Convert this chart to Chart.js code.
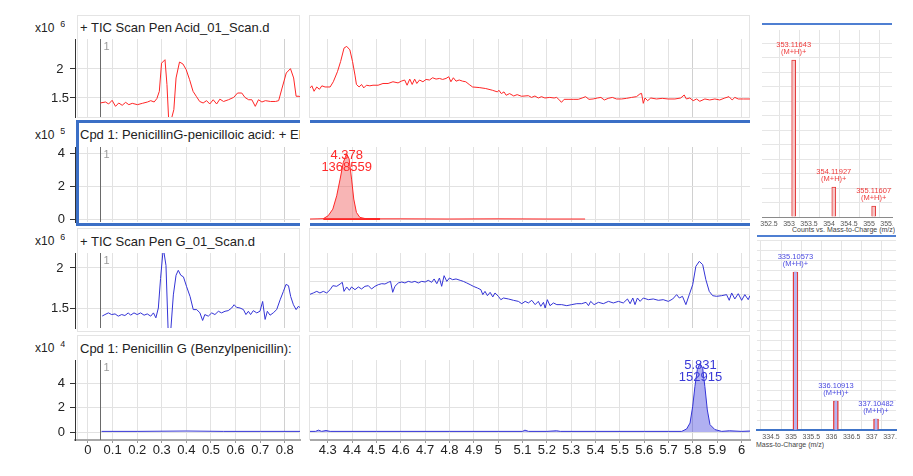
<!DOCTYPE html>
<html>
<head>
<meta charset="utf-8">
<script src="https://cdn.jsdelivr.net/npm/chart.js@4.4.1/dist/chart.umd.min.js"></script>
<style>
  body { margin: 0; width: 913px; height: 476px; overflow: hidden; position: relative; background: #fff;
         font-family: "Liberation Sans", Arial, sans-serif; color: #222; }
  canvas, .t, .f, .wrap, .sel { position: absolute; }
  .t { white-space: nowrap; overflow: hidden; font-size: 13px; line-height: 15px; }
  .exp { font-size: 12px; line-height: 14px; }
  .exp span { font-size: 9px; position: relative; top: -5px; margin-left: 6px; }
  .f { box-sizing: border-box; border: 1px solid #e4e4e4; }
  .sel { box-sizing: border-box; border: 0 solid #3b6fc6; z-index: 2; }
  .ax { font-size: 7px; line-height: 8px; color: #444; }
  .wrap { overflow: hidden; }
</style>
</head>
<body>

<!-- panel frames -->
<div class="f" style="left:77px;top:15px;width:223px;height:103px"></div>
<div class="f" style="left:309px;top:15px;width:441px;height:103px"></div>
<div class="f" style="left:77px;top:228px;width:223px;height:104px"></div>
<div class="f" style="left:309px;top:228px;width:441px;height:104px"></div>
<div class="f" style="left:77px;top:335px;width:223px;height:105px"></div>
<div class="f" style="left:309px;top:335px;width:441px;height:105px"></div>

<!-- titles -->
<div class="t exp" style="left:35px;top:21px">x10<span>6</span></div>
<div class="t" style="left:80px;top:20px;width:220px">+ TIC Scan Pen Acid_01_Scan.d</div>
<div class="t exp" style="left:35px;top:128px">x10<span>5</span></div>
<div class="t" style="left:80px;top:127px;width:220px">Cpd 1: PenicillinG-penicilloic acid: + EIC</div>
<div class="t exp" style="left:35px;top:234px">x10<span>6</span></div>
<div class="t" style="left:80px;top:234px;width:220px">+ TIC Scan Pen G_01_Scan.d</div>
<div class="t exp" style="left:35px;top:341px">x10<span>4</span></div>
<div class="t" style="left:80px;top:341px;width:220px">Cpd 1: Penicillin G (Benzylpenicillin):</div>

<!-- spectrum frame lines and axis titles -->
<div class="f" style="left:762px;top:23px;width:130px;height:2px;border:0;background:#4f7fd2"></div>
<div class="f" style="left:757px;top:235px;width:139px;height:2px;border:0;background:#4f7fd2"></div>
<div class="t ax" style="left:792px;top:226px">Counts vs. Mass-to-Charge (m/z)</div>
<div class="t ax" style="left:756px;top:441px">Mass-to-Charge (m/z)</div>

<div id="spec1" class="wrap" style="left:740px;top:0;width:153px;height:235px"></div>
<div id="spec2" class="wrap" style="left:740px;top:230px;width:157px;height:246px"></div>

<!-- selected compound frame (drawn over the plots) -->
<div class="sel" style="left:76px;top:120px;width:224px;height:106px;border-top-width:3px;border-left-width:3px;border-bottom-width:3px"></div>
<div class="sel" style="left:310px;top:120px;width:440px;height:106px;border-top-width:3px;border-bottom-width:3px"></div>

<script>
// ---- data: acquisition time (min) and response ----
const leftTicksX = [0, 0.1, 0.2, 0.3, 0.4, 0.5, 0.6, 0.7, 0.8];
const midTicksX = [4.3, 4.4, 4.5, 4.6, 4.7, 4.8, 4.9, 5, 5.1, 5.2, 5.3, 5.4, 5.5, 5.6, 5.7, 5.8, 5.9, 6];
const darkGridX = [0.8, 5.8];
const ticTicksY = [1.5, 2];
const penGMidTicksY = [1.5, 1.667, 1.833, 2];
const cpdTicksY = [0, 2, 4];
const markerTime = 0.05;
const markerLabel = '1';

// TIC Pen Acid (x10^6)
const acidTicLeftX = [.050,.071,.084,.098,.112,.125,.139,.153,.166,.180,.201,.221,.242,.255,.269,.280,.290,.299,.313,.321,.328,.338,.349,.358,.372,.386,.399,.413,.427,.440,.454,.468,.482,.495,.509,.523,.536,.551,.571,.592,.608,.625,.638,.653,.666,.680,.693,.707,.721,.742,.762,.775,.789,.806,.823,.836,.846,.858,.869,.875];
const acidTicLeftY = [1.414,1.431,1.397,1.46,1.356,1.414,1.374,1.425,1.385,1.408,1.385,1.408,1.431,1.454,1.431,1.49,1.615,2.10,2.16,1.73,1.12,1.12,1.30,1.845,2.12,2.086,1.99,1.816,1.615,1.53,1.44,1.414,1.454,1.397,1.47,1.397,1.48,1.44,1.47,1.51,1.586,1.586,1.51,1.47,1.47,1.356,1.47,1.431,1.454,1.44,1.44,1.454,1.672,1.931,2.006,1.845,1.53,1.53,1.49,1.385];
const acidTicMidX = [4.225,4.235,4.244,4.255,4.266,4.276,4.289,4.310,4.323,4.340,4.353,4.367,4.378,4.391,4.402,4.412,4.418,4.429,4.439,4.448,4.459,4.473,4.486,4.507,4.527,4.548,4.568,4.589,4.602,4.616,4.626,4.637,4.647,4.657,4.666,4.677,4.691,4.704,4.718,4.731,4.745,4.759,4.772,4.786,4.797,4.806,4.816,4.827,4.840,4.854,4.867,4.881,4.895,4.922,4.949,4.976,4.997,5.003,5.013,5.024,5.033,5.047,5.064,5.078,5.096,
  5.124,5.137,5.151,5.165,5.178,5.192,5.212,5.230,5.240,5.249,5.260,5.271,5.287,5.308,5.329,5.345,5.359,5.373,5.390,5.408,5.422,5.436,5.452,5.469,5.486,5.507,5.527,5.548,5.568,5.582,5.589,5.596,5.603,5.614,5.627,5.650,5.674,5.698,5.726,5.750,5.764,5.773,5.787,5.801,5.815,5.828,5.849,5.869,5.890,5.910,5.931,5.948,5.961,5.972,5.986,6.007,6.034];
const acidTicMidY = [1.663,1.71,1.616,1.69,1.65,1.71,1.69,1.69,1.78,1.953,2.128,2.36,2.39,2.33,2.128,1.895,1.733,1.69,1.733,1.674,1.72,1.71,1.72,1.72,1.75,1.75,1.78,1.76,1.79,1.81,1.72,1.826,1.733,1.826,1.75,1.81,1.78,1.82,1.81,1.849,1.826,1.837,1.82,1.837,1.866,1.78,1.849,1.79,1.81,1.79,1.78,1.733,1.69,1.68,1.663,1.634,1.605,1.634,1.576,1.605,1.547,1.576,1.535,1.558,1.53,
  1.54,1.51,1.534,1.5,1.523,1.5,1.51,1.5,1.51,1.477,1.425,1.477,1.477,1.477,1.477,1.5,1.523,1.477,1.483,1.5,1.51,1.466,1.494,1.51,1.483,1.483,1.494,1.51,1.523,1.569,1.58,1.408,1.5,1.454,1.5,1.483,1.494,1.483,1.483,1.5,1.552,1.483,1.5,1.454,1.483,1.443,1.483,1.466,1.483,1.466,1.5,1.523,1.466,1.51,1.483,1.483,1.483];

// Cpd 1 PenicillinG-penicilloic acid EIC (x10^5)
const acidEicX = [4.227,4.260,4.282,4.302,4.321,4.337,4.351,4.364,4.378,4.388,4.398,4.407,4.418,4.432,4.459,4.600,4.800,5.000,5.200,5.357];
const acidEicY = [0,0.01,0.02,0.2,0.6,1.41,2.42,3.43,3.95,3.64,2.42,1.21,0.4,0.1,0.01,0.01,0,0.01,0,0];
const acidBaseX = [4.282, 4.515];
const acidBaseY = [0, 0];
const acidPeak = [4.378, 1368559];

// TIC Pen G (x10^6)
const penGTicLeftX = [.058,.069,.083,.096,.110,.123,.137,.150,.164,.173,.187,.200,.214,.228,.241,.255,.266,.276,.286,.295,.306,.317,.326,.336,.347,.358,.367,.377,.388,.401,.415,.428,.442,.455,.466,.475,.489,.503,.516,.530,.543,.557,.570,.584,.594,.604,.618,.632,.642,.652,.661,.672,.686,.699,.710,.720,.729,.740,.753,.767,.781,.794,.805,.815,.824,.835,.846,.855,.865,.869];
const penGTicLeftY = [1.40,1.418,1.439,1.418,1.426,1.398,1.418,1.406,1.439,1.41,1.439,1.418,1.439,1.41,1.426,1.398,1.439,1.377,1.5,1.869,2.25,2.033,1.2,1.2,1.664,1.91,1.971,1.91,1.889,1.766,1.643,1.48,1.48,1.439,1.344,1.418,1.398,1.439,1.418,1.459,1.439,1.459,1.467,1.5,1.541,1.508,1.5,1.48,1.418,1.459,1.418,1.467,1.439,1.459,1.582,1.357,1.459,1.41,1.439,1.48,1.602,1.705,1.795,1.779,1.643,1.541,1.48,1.52,1.5,1.439];
const penGTicMidX = [4.224,4.241,4.255,4.268,4.282,4.296,4.310,4.321,4.337,4.351,4.360,4.367,4.378,4.389,4.398,4.412,4.426,4.439,4.453,4.467,4.480,4.494,4.508,4.522,4.535,4.549,4.558,4.567,4.576,4.590,4.604,4.617,4.631,4.645,4.658,4.672,4.686,4.700,4.713,4.727,4.737,4.748,4.759,4.768,4.778,4.789,4.800,4.813,4.827,4.844,4.857,4.871,4.885,4.898,4.915,4.929,4.937,4.946,4.956,4.967,4.978,4.987,5.001,5.011,5.022,5.042,5.063,5.083,5.097,5.111,5.124,5.138,5.152,5.165,5.175,5.186,5.193,5.202,5.213,5.227,5.241,5.261,5.282,5.302,5.323,5.343,5.361,5.371,5.380,5.394,5.412,5.432,5.453,5.473,5.494,5.514,5.531,5.542,5.553,5.562,5.572,5.583,5.596,5.617,5.637,5.658,5.678,5.699,5.717,5.733,5.744,5.757,5.771,5.785,5.799,5.812,5.826,5.840,5.853,5.867,5.881,5.897,5.918,5.938,5.949,5.959,5.972,5.986,6.000,6.013,6.027,6.034];
const penGTicMidY = [1.667,1.688,1.708,1.688,1.708,1.688,1.729,1.779,1.771,1.80,1.821,1.708,1.763,1.721,1.763,1.729,1.763,1.738,1.771,1.779,1.738,1.771,1.792,1.804,1.80,1.821,1.833,1.696,1.771,1.813,1.825,1.813,1.833,1.821,1.833,1.813,1.833,1.825,1.846,1.821,1.863,1.804,1.875,1.771,1.904,1.833,1.875,1.854,1.863,1.846,1.833,1.813,1.792,1.771,1.75,1.729,1.667,1.708,1.654,1.696,1.638,1.688,1.646,1.604,1.625,1.613,1.596,1.583,1.554,1.583,1.563,1.596,1.542,1.583,1.521,1.571,1.5,1.604,1.529,1.563,1.542,1.542,1.529,1.542,1.554,1.554,1.571,1.529,1.583,1.542,1.571,1.554,1.583,1.563,1.583,1.563,1.613,1.554,1.625,1.542,1.625,1.583,1.625,1.604,1.613,1.596,1.604,1.583,1.613,1.667,1.625,1.646,1.542,1.667,1.792,2.021,2.083,2.042,1.854,1.708,1.654,1.646,1.654,1.667,1.596,1.688,1.613,1.679,1.596,1.667,1.604,1.654];

// Cpd 1 Penicillin G EIC (x10^4)
const penGEicLeftX = [.055, .2, .4, .55, .7, .875];
const penGEicLeftY = [0.05, 0.05, 0.08, 0.05, 0.05, 0.05];
const penGEicMidX = [4.224,4.250,4.262,4.275,4.293,4.310,4.500,4.800,5.000,5.100,5.110,5.125,5.200,5.240,5.255,5.400,5.600,5.700,5.754,5.774,5.788,5.799,5.808,5.818,5.829,5.840,5.849,5.859,5.870,5.890,5.918,5.950,6.000,6.034];
const penGEicMidY = [0.05,0.05,0.15,0.05,0.12,0.05,0.05,0.05,0.05,0.05,0.15,0.05,0.05,0.1,0.05,0.05,0.05,0.05,0.05,0.25,0.73,2.1,3.7,5.1,5.6,5.2,3.7,1.8,0.6,0.2,0.05,0.1,0.05,0.08];
const penGPeak = [5.831, 152915];

// mass spectra
const spec1Mz = [353.11643, 354.11927, 355.11607];
const spec1Abund = [10.83, 2.07, 0.76];
const spec1Ticks = [352.5, 353, 353.5, 354, 354.5, 355, 355.5];
const spec2Mz = [335.10573, 336.10913, 337.10482];
const spec2Abund = [15.8, 2.9, 1.1];
const spec2Ticks = [334.5, 335, 335.5, 336, 336.5, 337, 337.5];
const ionLabel = '(M+H)+';

// ---- layout ----
const RED = '#ff2626';
const BLUE = '#3434d6';
const GRID = '#e2e2e2';
const LEFT = { l: 75, r: 300, range: [-0.0528, 0.8618] };
const MID = { l: 310, r: 750, range: [4.2273, 6.0343] };
const ROWS = [
  { t: 39, b: 117, range: [1.1724, 2.517] },
  { t: 147, b: 222, range: [-0.18, 4.364] },
  { t: 253, b: 328, range: [1.25, 2.1875] },
  { t: 360, b: 440, range: [-0.653, 5.878] },
];

Chart.defaults.font.family = '"Liberation Sans", Arial, sans-serif';
Chart.defaults.animation = false;
Chart.defaults.plugins.legend.display = false;
Chart.defaults.plugins.tooltip.enabled = false;

const pts = (xs, ys) => xs.map((x, i) => ({ x, y: ys[i] }));

const markerPlugin = {
  id: 'marker',
  beforeDatasetsDraw(chart, args, opts) {
    if (opts.x == null) return;
    const { ctx, chartArea, scales } = chart;
    const px = Math.round(scales.x.getPixelForValue(opts.x)) + 0.5;
    ctx.save();
    ctx.strokeStyle = '#6a6a6a';
    ctx.lineWidth = 1;
    ctx.beginPath();
    ctx.moveTo(px, chartArea.top);
    ctx.lineTo(px, chartArea.bottom);
    ctx.stroke();
    ctx.fillStyle = '#9a9a9a';
    ctx.font = '11px "Liberation Sans", Arial';
    ctx.textBaseline = 'middle';
    ctx.fillText(opts.label, px + 3, chartArea.top + 8);
    ctx.restore();
  }
};

const peakPlugin = {
  id: 'peak',
  afterDatasetsDraw(chart, args, opts) {
    if (!opts.peak) return;
    const { ctx, scales } = chart;
    const data = chart.data.datasets[0].data;
    const top = Math.max(...data.map(p => p.y));
    const px = scales.x.getPixelForValue(opts.peak[0]);
    const py = scales.y.getPixelForValue(top);
    ctx.save();
    ctx.fillStyle = opts.color;
    ctx.font = '13px "Liberation Sans", Arial';
    ctx.textAlign = 'center';
    ctx.textBaseline = 'middle';
    ctx.fillText(opts.peak[0].toFixed(3), px, py + 2);
    ctx.fillText(String(opts.peak[1]), px, py + 14);
    ctx.restore();
  }
};

const ionPlugin = {
  id: 'ions',
  afterDatasetsDraw(chart, args, opts) {
    const { ctx, scales } = chart;
    ctx.save();
    ctx.fillStyle = opts.color;
    ctx.font = '7.5px "Liberation Sans", Arial';
    ctx.textAlign = 'center';
    ctx.textBaseline = 'middle';
    opts.mz.forEach((m, i) => {
      const x = scales.x.getPixelForValue(m);
      const y = scales.y.getPixelForValue(opts.abund[i]);
      ctx.fillText(m.toFixed(5), x, y - 15);
      ctx.fillText(ionLabel, x, y - 8);
    });
    ctx.restore();
  }
};

function mount(parent, box, pad, offset) {
  const c = document.createElement('canvas');
  const w = box.r - box.l + pad.l + pad.r;
  const h = box.b - box.t + pad.t + pad.b;
  c.width = w;
  c.height = h;
  c.style.width = w + 'px';
  c.style.height = h + 'px';
  c.style.left = (box.l - pad.l - (offset ? offset.x : 0)) + 'px';
  c.style.top = (box.t - pad.t - (offset ? offset.y : 0)) + 'px';
  (parent || document.body).appendChild(c);
  return c;
}

function xAxis(range, ticks, showLabels) {
  return {
    type: 'linear',
    min: range[0],
    max: range[1],
    afterBuildTicks: s => { s.ticks = ticks.map(v => ({ value: v })); },
    afterFit: s => { s.height = showLabels ? 22 : 0; },
    grid: {
      color: c => (c.tick && darkGridX.includes(c.tick.value)) ? '#d0d0d0' : GRID,
      drawTicks: showLabels,
      tickLength: 3,
      tickColor: '#999',
    },
    border: { display: showLabels, color: '#a8a8a8', width: 2 },
    ticks: {
      display: showLabels, padding: 0, color: '#222', font: { size: 13 },
      maxRotation: 0, autoSkip: false, callback: v => String(v),
    },
  };
}

function yAxis(range, ticks, showLabels, labelPad) {
  return {
    min: range[0],
    max: range[1],
    afterBuildTicks: s => { s.ticks = ticks.map(v => ({ value: v })); },
    afterFit: s => { s.width = showLabels ? LEFT.l : 0; },
    grid: { color: GRID, drawTicks: showLabels, tickLength: 5, tickColor: '#333' },
    border: { display: showLabels, color: '#333', width: 1 },
    ticks: {
      display: showLabels, crossAlign: 'center', padding: labelPad,
      color: '#222', font: { size: 13 }, callback: v => String(v),
    },
  };
}

function lineSet(data, color, extra) {
  return Object.assign({ data, borderColor: color, borderWidth: 1, pointRadius: 0, tension: 0, fill: false }, extra || {});
}

function panel(seg, rowIdx, yTicks, datasets, opts) {
  const row = ROWS[rowIdx];
  const isLeft = seg === LEFT;
  const bottom = rowIdx === 3;
  const pad = { l: isLeft ? LEFT.l : 0, r: 4, t: 16, b: bottom ? 28 : 16 };
  const canvas = mount(null, { l: seg.l, r: seg.r, t: row.t, b: row.b }, pad);
  return new Chart(canvas, {
    type: 'line',
    data: { datasets },
    options: {
      responsive: false,
      devicePixelRatio: 1,
      layout: { padding: { left: 0, right: pad.r, top: pad.t, bottom: bottom ? 6 : pad.b } },
      scales: {
        x: xAxis(seg.range, isLeft ? leftTicksX : midTicksX, bottom),
        y: yAxis(row.range, yTicks, isLeft, opts.labelPad || 0),
      },
      plugins: {
        marker: isLeft ? { x: markerTime, label: markerLabel } : {},
        peak: opts.peak ? { peak: opts.peak, color: opts.color } : {},
      },
    },
    plugins: [markerPlugin, peakPlugin],
  });
}

// row 1: TIC Pen Acid
panel(LEFT, 0, ticTicksY, [lineSet(pts(acidTicLeftX, acidTicLeftY), RED)], { labelPad: 1 });
panel(MID, 0, ticTicksY, [lineSet(pts(acidTicMidX, acidTicMidY), RED)], {});

// row 2: Cpd 1 penicilloic acid EIC
panel(LEFT, 1, cpdTicksY, [], { labelPad: 5 });
panel(MID, 1, cpdTicksY, [
  lineSet(pts(acidEicX, acidEicY), RED, { fill: 'origin', backgroundColor: 'rgba(240,90,90,0.45)' }),
  lineSet(pts(acidBaseX, acidBaseY), RED, { borderWidth: 2 }),
], { peak: acidPeak, color: '#ff2a2a' });

// row 3: TIC Pen G
panel(LEFT, 2, ticTicksY, [lineSet(pts(penGTicLeftX, penGTicLeftY), BLUE)], { labelPad: 1 });
panel(MID, 2, penGMidTicksY, [lineSet(pts(penGTicMidX, penGTicMidY), BLUE)], {});

// row 4: Cpd 1 Penicillin G EIC
panel(LEFT, 3, cpdTicksY, [lineSet(pts(penGEicLeftX, penGEicLeftY), BLUE)], { labelPad: 5 });
panel(MID, 3, cpdTicksY, [
  lineSet(pts(penGEicMidX, penGEicMidY), BLUE, { fill: 'origin', backgroundColor: 'rgba(80,80,225,0.45)' }),
], { peak: penGPeak, color: '#3a3ad8' });

// ---- mass spectra ----
function spectrum(parentId, box, xRange, yMax, ticks, datasets, borderColor, borderWidth, labelColor, mz, abund) {
  const parent = document.getElementById(parentId);
  const offset = { x: parseFloat(parent.style.left), y: parseFloat(parent.style.top) };
  const pad = { l: 6, r: 12, t: 8, b: 12 };
  const canvas = mount(parent, box, pad, offset);
  return new Chart(canvas, {
    type: 'bar',
    data: { datasets },
    options: {
      responsive: false,
      devicePixelRatio: 1,
      layout: { padding: { left: pad.l, right: pad.r, top: pad.t, bottom: 0 } },
      scales: {
        x: {
          type: 'linear', offset: false, min: xRange[0], max: xRange[1],
          afterBuildTicks: s => { s.ticks = ticks.map(v => ({ value: v })); },
          afterFit: s => { s.height = pad.b; },
          grid: { color: '#e4e4e4', drawTicks: false },
          border: { color: borderColor, width: borderWidth },
          ticks: { padding: 3, color: '#555', font: { size: 7 }, maxRotation: 0, autoSkip: false, callback: v => String(v) },
        },
        y: {
          min: 0, max: yMax,
          afterBuildTicks: s => {
            const t = [];
            for (let v = 0; v <= yMax; v += 1) t.push({ value: v });
            s.ticks = t;
          },
          afterFit: s => { s.width = 0; },
          grid: { color: '#e6e6e6', drawTicks: false },
          border: { display: false },
          ticks: { display: false },
        },
      },
      plugins: { ions: { color: labelColor, mz, abund } },
    },
    plugins: [ionPlugin],
  });
}

spectrum('spec1', { l: 762, r: 892, t: 30, b: 217 }, [352.325, 355.575], 12.9, spec1Ticks, [
  { data: pts(spec1Mz, spec1Abund), backgroundColor: '#f7c6c6', borderColor: '#e33a3a', borderWidth: 1, barThickness: 4, grouped: false },
], '#8a8a8a', 1, '#ee3b3b', spec1Mz, spec1Abund);

spectrum('spec2', { l: 757, r: 896, t: 240, b: 430 }, [334.153, 337.6], 19, spec2Ticks, [
  { data: pts(spec2Mz, spec2Abund), backgroundColor: '#b4b4f4', borderWidth: 0, barThickness: 2, grouped: false },
  { data: pts(spec2Mz, spec2Abund), backgroundColor: 'rgba(0,0,0,0)', borderColor: '#e33a3a', borderWidth: 1, barThickness: 5, grouped: false },
], '#3f74c9', 2, '#4a4ae0', spec2Mz, spec2Abund);
</script>
</body>
</html>
